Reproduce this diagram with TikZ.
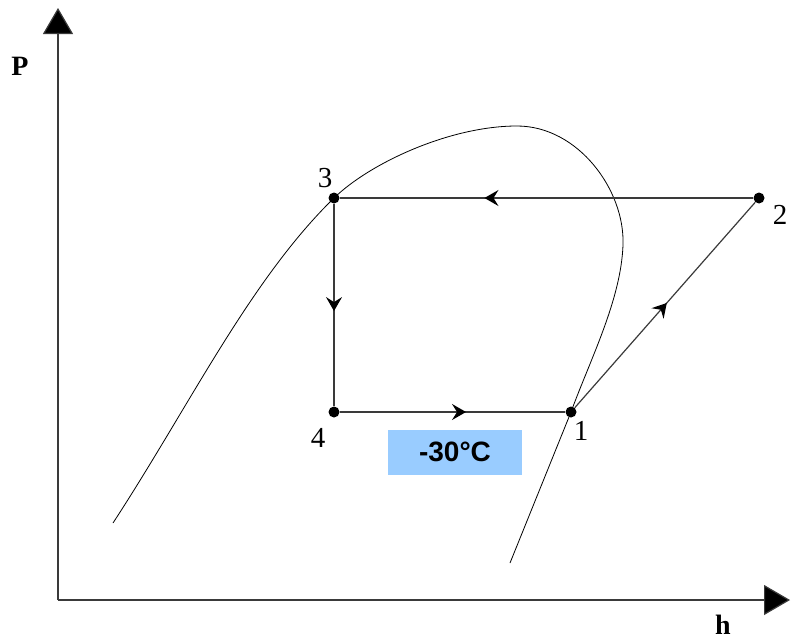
\documentclass[tikz,border=0pt]{standalone}
\usepackage{fontspec}
\setmainfont{Liberation Serif}
\newfontfamily\tempfont{Liberation Sans}
\usetikzlibrary{arrows.meta,decorations.markings}
\definecolor{tempbox}{HTML}{99CCFF}
\definecolor{cycline}{HTML}{3A3A3A}

\begin{document}
\begin{tikzpicture}[x=1pt,y=-1pt,
    state/.style={circle,fill=black,inner sep=0pt,minimum size=11pt},
    numlabel/.style={inner sep=0pt,font=\fontsize{29}{33}\selectfont},
    axlabel/.style={inner sep=0pt,font=\bfseries\fontsize{28}{32}\selectfont},
    axis/.style={cycline,line width=1.2pt,-{Triangle[length=26pt,width=30pt,fill=black]}},
    process/.style={cycline,line width=1.2pt,postaction={decorate},
      decoration={markings,mark=at position #1 with {\arrow[black]{Stealth[length=14pt,width=16pt,inset=5pt]}}}},
    dome/.style={black,line width=0.8pt}]
  \useasboundingbox (0,0) rectangle (792,640);
  % axes
  \coordinate (origin) at (58,600);
  \coordinate (ytip) at (58,8);
  \coordinate (xtip) at (790,600);
  \draw[axis] (origin) -- (ytip);
  \draw[axis] (origin) -- (xtip);
  \node[axlabel] (plabel) at (20,66) {P};
  \node[axlabel] (hlabel) at (723,625) {h};
  % saturation dome
  \draw[dome] (113,523) .. controls (190,405) and (250,280) .. (334,198)
    .. controls (370,163) and (450,126) .. (517,126)
    .. controls (578,126) and (625,190) .. (623,245)
    .. controls (621,300) and (590,360) .. (571,412) -- (510,563);
  % cycle states
  \node[state] (p3) at (334,198) {};
  \node[state] (p2) at (759,198) {};
  \node[state] (p4) at (334,412) {};
  \node[state] (p1) at (571,412) {};
  \node[numlabel] (l3) at ([shift={(-9,-20)}]p3) {3};
  \node[numlabel] (l2) at ([shift={(21,17)}]p2) {2};
  \node[numlabel] (l4) at ([shift={(-16,26)}]p4) {4};
  \node[numlabel] (l1) at ([shift={(10,19)}]p1) {1};
  \draw[process=0.65] (p2) -- (p3);
  \draw[process=0.53] (p3) -- (p4);
  \draw[process=0.56] (p4) -- (p1);
  \draw[process=0.51] (p1) -- (p2);
  % evaporating temperature
  \node[fill=tempbox,minimum width=134pt,minimum height=45pt,inner sep=0pt,
    font=\tempfont\bfseries\fontsize{28}{32}\selectfont] (temp) at (455,452) {-30\textdegree C};
\end{tikzpicture}
\end{document}
